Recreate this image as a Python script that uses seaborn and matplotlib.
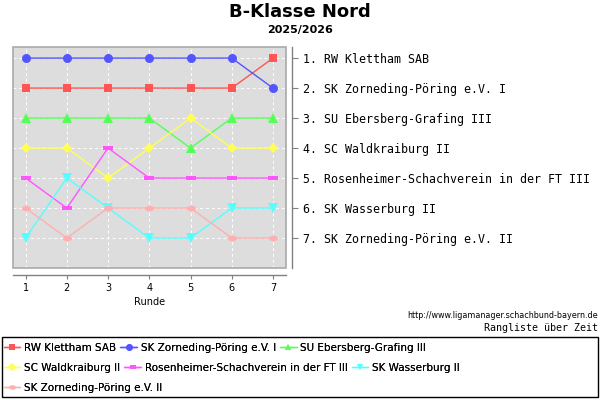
import numpy as np
import pandas as pd
import matplotlib
matplotlib.use("Agg")
import matplotlib.pyplot as plt
from matplotlib.path import Path
from matplotlib.patches import Rectangle
import seaborn as sns

# ──────────────────────────────────────────────
# DATOS
# ──────────────────────────────────────────────
runden = [1, 2, 3, 4, 5, 6, 7]

teams = [
    "RW Klettham SAB",
    "SK Zorneding-Pöring e.V. I",
    "SU Ebersberg-Grafing III",
    "SC Waldkraiburg II",
    "Rosenheimer-Schachverein in der FT III",
    "SK Wasserburg II",
    "SK Zorneding-Pöring e.V. II",
]

rang_klettham = [2, 2, 2, 2, 2, 2, 1]
rang_zorneding1 = [1, 1, 1, 1, 1, 1, 2]
rang_ebersberg = [3, 3, 3, 3, 4, 3, 3]
rang_waldkraiburg = [4, 4, 5, 4, 3, 4, 4]
rang_rosenheim = [5, 6, 4, 5, 5, 5, 5]
rang_wasserburg = [7, 5, 6, 7, 7, 6, 6]
rang_zorneding2 = [6, 7, 6, 6, 6, 7, 7]

endstand = ["1. RW Klettham SAB", "2. SK Zorneding-Pöring e.V. I",
            "3. SU Ebersberg-Grafing III", "4. SC Waldkraiburg II",
            "5. Rosenheimer-Schachverein in der FT III", "6. SK Wasserburg II",
            "7. SK Zorneding-Pöring e.V. II"]

# ──────────────────────────────────────────────
# ESTILO
# ──────────────────────────────────────────────
colores = ["#FF5555", "#5555FF", "#55FF55", "#FFFF55", "#FF55FF", "#55FFFF", "#FFAFAF"]

rect_h = Path([(-1, -0.55), (1, -0.55), (1, 0.55), (-1, 0.55), (-1, -0.55)],
              [Path.MOVETO, Path.LINETO, Path.LINETO, Path.LINETO, Path.CLOSEPOLY])
t = np.linspace(0, 2 * np.pi, 40)
ellipse_h = Path(np.column_stack([np.cos(t), 0.6 * np.sin(t)]))
marcadores = ["s", "o", "^", "D", rect_h, "v", ellipse_h]
tamanos = [6, 6.5, 6.5, 5, 6.5, 6.5, 6.5]

sns.set_theme(style="white")
plt.rcParams["font.family"] = ["DejaVu Sans"]
plt.rcParams.update({"text.color": "black", "axes.labelcolor": "black",
                     "xtick.color": "black", "ytick.color": "black"})

fig = plt.figure(figsize=(6, 4), dpi=100)
ax = fig.add_axes([0.022, 0.33, 0.455, 0.5525])
ax.set_facecolor("#DDDDDD")

series = [rang_klettham, rang_zorneding1, rang_ebersberg, rang_waldkraiburg,
          rang_rosenheim, rang_wasserburg, rang_zorneding2]

handles = []
for nombre, valores, col, mk, ms in zip(teams, series, colores, marcadores, tamanos):
    df = pd.DataFrame({"Runde": runden, "Rang": valores})
    sns.lineplot(data=df, x="Runde", y="Rang", ax=ax, color=col, marker=mk,
                 markersize=ms, markeredgewidth=0, linewidth=1, label=nombre,
                 legend=False)
    handles.append(ax.lines[-1])

ax.set_xlim(0.7, 7.32)
ax.set_ylim(8.0, 0.63)
ax.set_xticks(runden)
ax.set_yticks(range(1, 8))
ax.grid(True, color="white", linestyle="--", linewidth=0.7, dashes=(3, 3))
ax.set_axisbelow(True)

# Ejes externos
for lado in ["left", "top"]:
    ax.spines[lado].set_visible(False)
ax.spines["bottom"].set_position(("outward", 5))
ax.spines["right"].set_position(("outward", 4))
for lado in ["bottom", "right"]:
    ax.spines[lado].set_color("#808080")
    ax.spines[lado].set_linewidth(1)
ax.add_patch(Rectangle((0, 0), 1, 1, transform=ax.transAxes, fill=False,
                       edgecolor="#AAAAAA", linewidth=1.2, clip_on=False, zorder=5))

ax.yaxis.tick_right()
ax.set_yticklabels(endstand, family="DejaVu Sans Mono", fontsize=8.4, color="black")
ax.tick_params(axis="y", direction="out", length=4, width=0.8, color="#808080", pad=4)
ax.tick_params(axis="x", direction="out", length=3, width=0.8, color="#808080",
               labelsize=7, pad=3, bottom=True)
ax.set_xlabel("Runde", fontsize=7, labelpad=3)
ax.set_ylabel("")

# Títulos
fig.text(0.5, 0.97, "B-Klasse Nord", ha="center", va="center",
         fontsize=13, fontweight="bold")
fig.text(0.5, 0.925, "2025/2026", ha="center", va="center",
         fontsize=8, fontweight="bold")
fig.text(0.997, 0.21, "http://www.ligamanager.schachbund-bayern.de", ha="right",
         va="center", fontsize=5.8)
fig.text(0.997, 0.18, "Rangliste über Zeit", ha="right", va="center",
         fontsize=7.2, family="DejaVu Sans Mono")

# Leyenda en filas
filas = [[0, 1, 2], [3, 4, 5], [6]]
alturas = [0.13, 0.08, 0.03]
for fila, yf in zip(filas, alturas):
    leg = fig.legend([handles[i] for i in fila], [teams[i] for i in fila],
                     loc="center left", bbox_to_anchor=(0.006, yf), ncol=len(fila),
                     frameon=False, fontsize=7.5, handlelength=1.6, handletextpad=0.35,
                     columnspacing=0.4, borderpad=0, borderaxespad=0, markerscale=0.75)
    fig.add_artist(leg)
fig.add_artist(Rectangle((0.004, 0.0075), 0.993, 0.15, transform=fig.transFigure,
                         fill=False, edgecolor="black", linewidth=1))

fig.savefig("out.png", dpi=100)
